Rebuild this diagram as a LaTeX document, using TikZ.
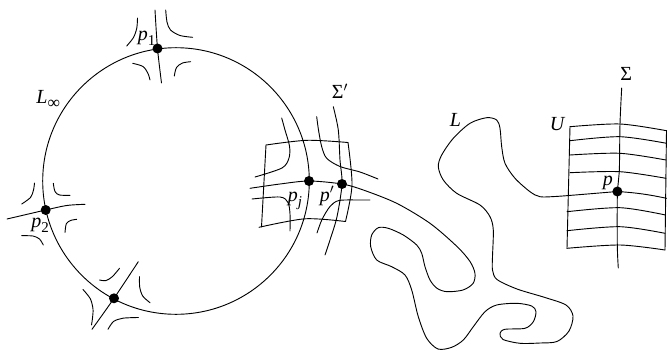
\documentclass[tikz,border=0pt]{standalone}
\usepackage{fontspec}
\setmainfont{Liberation Serif}
\newcommand\lowsub[1]{\raisebox{-0.55ex}{\fontsize{9}{10}\selectfont #1}}
\tikzset{
  dotnode/.style={circle, fill=black, inner sep=0pt, minimum size=6pt},
  lab/.style={inner sep=0pt, anchor=base west, font=\fontsize{12}{14}\selectfont\itshape},
}
\begin{document}
\begin{tikzpicture}[x=0.6pt,y=-0.6pt,line width=0.55pt,line cap=round,line join=round]
\useasboundingbox (0,0) rectangle (668,350);
% key points
\coordinate (O) at (176,181);
\coordinate (c1) at (157.5,48.5);
\coordinate (c2) at (45.7,210);
\coordinate (c3) at (114,298.3);
\coordinate (cj) at (309,181);
\coordinate (cpp) at (342,184);
\coordinate (cp) at (617.4,191.5);

% L infinity
\draw (O) circle[radius=133.3];

% saddle at p1
\draw plot[smooth] coordinates {(155,10) (c1) (161.5,83)};
\draw plot[smooth] coordinates {(126.7,46) (133.5,37.5) (136.8,28) (137.5,18)};
\draw plot[smooth] coordinates {(165.7,10) (167,22) (170.5,30) (180,35.5) (192.7,37.3)};
\draw plot[smooth] coordinates {(132.7,63.3) (143,66.5) (148,73.5) (150,80)};
\draw plot[smooth] coordinates {(174.3,76) (176.5,67.5) (182.5,63) (190.7,61.7)};

% saddle at p2
\draw plot[smooth] coordinates {(7,219) (c2) (66.7,205.5) (85,204.3)};
\draw plot[smooth] coordinates {(21.7,204) (30.5,197.5) (33.5,190) (34.5,183)};
\draw plot[smooth] coordinates {(53.3,183.3) (55,191.5) (59.5,195) (70,195.3)};
\draw plot[smooth] coordinates {(21.7,235.7) (33,236) (39.5,239) (43.3,245)};
\draw plot[smooth] coordinates {(65,232.5) (66.3,223.8) (70.5,220.5) (76.7,219.3)};

% saddle at bottom point
\draw plot[smooth] coordinates {(138.3,261.7) (c3) (92,329.3)};
\draw plot[smooth] coordinates {(99.5,280) (106,280.6) (112.5,276.5) (119.5,268.3)};
\draw plot[smooth] coordinates {(139.5,276.7) (139.7,287) (142.7,296) (150,302.7)};
\draw plot[smooth] coordinates {(83,289.5) (90.3,298.7) (93,309) (92.5,318) (91.5,325)};
\draw plot[smooth] coordinates {(108,329.3) (113.5,321.5) (123,318.2) (138.3,317.5)};

% Sigma' box
\draw plot[smooth] coordinates {(266,145) (307,140.3) (348,142.5)};
\draw (266,145) -- (261.5,227);
\draw plot[smooth] coordinates {(259,227.3) (305,218.8) (345.5,221.5)};
\draw plot[smooth] coordinates {(348,142.5) (352,185) (345.5,221.5)};
\draw plot[smooth] coordinates {(281.7,118) (285,130) (289.5,146) (289,158) (282,168) (255,177)};
\draw plot[smooth] coordinates {(316.7,116.7) (318.5,130) (321.7,146.7) (326.7,158.3) (340,166.5) (360,172) (378,179)};
\draw plot[smooth] coordinates {(252,199) (280,197) (288,202.5) (290,214) (290,231)};
\draw plot[smooth] coordinates {(370,200) (360,200) (339,200.5) (330,206.5) (322,219.5) (317,233)};
\draw plot[smooth] coordinates {(333.3,106.7) (338.3,130) (340,160) (cpp) (337,216.7) (330,240) (325,255)};

% curve L
\draw plot[smooth] coordinates {(250,188.3) (280,184) (cj) (cpp) (363.3,190) (396.7,203.3) (430,223.3)
  (457,246.5) (470,261.5) (475,273.5) (473,283.5) (463,290) (447,291.7) (437,288.3) (430,280)
  (425,266.7) (421.7,253.3) (416.7,245) (403.3,235) (388.3,228.3) (378.3,227.7) (371.7,235)
  (370.7,246.7) (376.7,260) (391.7,266.7) (405,275) (411.7,290) (418.3,316.7) (426.7,338.3)
  (438,349) (451.7,347.3) (463.3,340) (473.3,326.7) (485,311.7) (496.7,305) (516.7,303.3)
  (531.7,306) (536,311.7) (533.3,321.7) (525,328.3) (505,329.3) (500,333.3) (503,339.5)
  (520,343.3) (540,343) (557,341.5) (569,331) (573,316) (566,305) (545,297.5) (517,289)
  (497,279.5) (492.5,270) (492.5,256.7) (493.3,230) (490,216.7) (480,205) (456.7,193.3)
  (443.3,180) (438.3,166.7) (441.7,155) (453.3,138.3) (470,123.3) (486.7,117.7) (496.7,120)
  (500,128.3) (501.7,146.7) (505,163.3) (515,178.3) (530,191.7) (540,196.7) (555,196.5)
  (575,195) (cp)};
\draw (cp) to[bend left=4] (666.5,198.3);

% U box
\draw plot[smooth] coordinates {(570,126.7) (620,124) (666.5,130.7)};
\draw plot[smooth] coordinates {(570,140.7) (620,136.7) (666.5,143.3)};
\draw plot[smooth] coordinates {(570,155) (620,153.3) (666,160)};
\draw plot[smooth] coordinates {(570,172.7) (620,171.7) (666,178.3)};
\draw plot[smooth] coordinates {(567,211.7) (620,207.7) (665.5,215)};
\draw plot[smooth] coordinates {(567,230.7) (620,226.7) (665,233.3)};
\draw plot[smooth] coordinates {(567,248.3) (620,245) (665,250)};
\draw (570,126.7) -- (567,248.3);
\draw (666.5,130.7) -- (665,250);
\draw plot[smooth] coordinates {(621.7,88) (620,124) (619.3,171.7) (cp) (617.3,245) (618.3,268)};

% dots
\node[dotnode] (d1) at (c1) {};
\node[dotnode] (d2) at (c2) {};
\node[dotnode] (d3) at (c3) {};
\node[dotnode] (dj) at (cj) {};
\node[dotnode] (dpp) at (cpp) {};
\node[dotnode] (dp) at (cp) {};

% labels
\node[lab] (tLinf) at (36,103.3) {L\lowsub{\upshape\fontsize{10.5}{11}\selectfont ∞}};
\node[lab] (tp1) at (137.5,40.7) {p\lowsub{\upshape 1}};
\node[lab] (tp2) at (31,227) {p\lowsub{\upshape 2}};
\node[lab] (tpj) at (287.5,201) {p\lowsub{j}};
\node[lab] (tpp) at (319.5,201) {p$'$};
\node[lab] (tSp) at (331.5,98.3) {\upshape Σ$'$};
\node[lab] (tL) at (449.5,126.7) {L};
\node[lab] (tU) at (549.5,130) {U};
\node[lab] (tp) at (602.5,185.7) {p};
\node[lab] (tS) at (620,80) {\upshape Σ};
\end{tikzpicture}
\end{document}
